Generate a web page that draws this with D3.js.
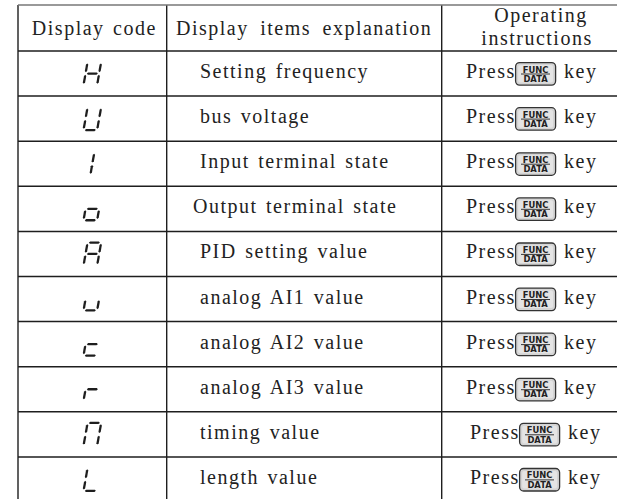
<!DOCTYPE html>
<html>
<head>
<meta charset="utf-8">
<script src="https://cdn.jsdelivr.net/npm/d3@7"></script>
<style>
  html, body { margin: 0; padding: 0; background: #fff; }
  svg { display: block; }
</style>
</head>
<body>
<svg id="chart" width="617" height="499"></svg>
<script>
// ---------- data ----------
const headerCode = "Display code";
const headerItems = "Display items explanation";
const headerOps = ["Operating", "instructions"];
const codes = ["H", "U", "I", "o", "A", "u", "c", "r", "n", "L"];
const items = [
  "Setting frequency", "bus voltage", "Input terminal state", "Output terminal state",
  "PID setting value", "analog AI1 value", "analog AI2 value", "analog AI3 value",
  "timing value", "length value"
];
const opPrefix = ["Press", "Press", "Press", "Press", "Press", "Press", "Press", "Press", "Press", "Press"];
const keyTop = "FUNC";
const keyBottom = "DATA";
const opSuffix = "key";

// ---------- layout ----------
const W = 617, H = 499;
const colEdges = [18, 166.7, 441.7, 618];
const tableTop = 5, headerBottom = 51, rowH = 45.1;
const itemIndent = [0, 0, 0, -7, 0, 0, 0, 0, 0, 0];
const opShift = [0, 0, 0, 0, 0, 0, 0, 0, 4, 4];
const ink = "#1e1e1e";

const svg = d3.select("#chart");
svg.append("rect").attr("width", W).attr("height", H).attr("fill", "#fff");

const y = d3.scaleBand().domain(d3.range(codes.length))
  .range([headerBottom, headerBottom + rowH * codes.length]).padding(0);

// ---------- grid lines ----------
const g = svg.append("g");
const bottom = headerBottom + rowH * codes.length;
g.selectAll("line.v").data(colEdges).join("line")
  .attr("x1", d => d).attr("x2", d => d)
  .attr("y1", tableTop).attr("y2", bottom)
  .attr("stroke", ink).attr("stroke-width", 1.4);
const hLines = [tableTop, headerBottom].concat(d3.range(codes.length).map(i => y(i) + y.bandwidth()));
g.selectAll("line.h").data(hLines).join("line")
  .attr("x1", colEdges[0]).attr("x2", colEdges[3])
  .attr("y1", d => d).attr("y2", d => d)
  .attr("stroke", (d, i) => i === 0 ? "#777" : ink).attr("stroke-width", 1.5);

// ---------- text style ----------
const serif = "'Liberation Serif', 'Times New Roman', serif";
function styleText(sel) {
  return sel.attr("font-family", serif).attr("font-size", 20)
    .attr("fill", "#222").attr("letter-spacing", 1.5).attr("word-spacing", 2);
}

// ---------- header ----------
const c1 = (colEdges[0] + colEdges[1]) / 2;
const c2 = (colEdges[1] + colEdges[2]) / 2;
const c3 = 537;
styleText(svg.append("text")).attr("x", c1 + 2).attr("y", 35).attr("text-anchor", "middle").text(headerCode);
styleText(svg.append("text")).attr("x", c2).attr("y", 35).attr("text-anchor", "middle")
  .attr("word-spacing", 5).text(headerItems);
styleText(svg.append("text")).attr("x", c3 + 4).attr("y", 22).attr("text-anchor", "middle").text(headerOps[0]);
styleText(svg.append("text")).attr("x", c3).attr("y", 45).attr("text-anchor", "middle").text(headerOps[1]);

// ---------- 7-segment glyphs ----------
const hw = 6.8, hh = 11.4, gap = 1.3, th = 2.3;
const segs = {
  a: [[-hw + gap, -hh], [hw - gap, -hh]],
  b: [[hw, -hh + gap], [hw, -gap]],
  c: [[hw, gap], [hw, hh - gap]],
  d: [[-hw + gap, hh], [hw - gap, hh]],
  e: [[-hw, gap], [-hw, hh - gap]],
  f: [[-hw, -hh + gap], [-hw, -gap]],
  g: [[-hw + gap, 0], [hw - gap, 0]],
  i1: [[0, -hh + gap], [0, -gap]],
  i2: [[0, gap], [0, hh - gap]]
};
const glyphSegs = {
  H: ["b", "c", "e", "f", "g"],
  U: ["b", "c", "d", "e", "f"],
  I: ["i1", "i2"],
  o: ["c", "d", "e", "g"],
  A: ["a", "b", "c", "e", "f", "g"],
  u: ["c", "d", "e"],
  c: ["d", "e", "g"],
  r: ["e", "g"],
  n: ["a", "b", "c", "e", "f"],
  L: ["d", "e", "f"]
};
function segPoly(p1, p2) {
  const dx = p2[0] - p1[0], dy = p2[1] - p1[1];
  const len = Math.hypot(dx, dy);
  const ux = dx / len, uy = dy / len, px = -uy, py = ux;
  const t = th / 2;
  const pts = [
    [p1[0], p1[1]],
    [p1[0] + ux * t + px * t, p1[1] + uy * t + py * t],
    [p2[0] - ux * t + px * t, p2[1] - uy * t + py * t],
    [p2[0], p2[1]],
    [p2[0] - ux * t - px * t, p2[1] - uy * t - py * t],
    [p1[0] + ux * t - px * t, p1[1] + uy * t - py * t]
  ];
  return pts.map(p => p.join(",")).join(" ");
}
const glyphs = svg.append("g").selectAll("g").data(codes).join("g")
  .attr("transform", (d, i) => `translate(${c1},${y(i) + y.bandwidth() / 2}) skewX(-10)`);
glyphs.selectAll("polygon").data(d => glyphSegs[d]).join("polygon")
  .attr("points", s => segPoly(segs[s][0], segs[s][1]))
  .attr("fill", ink);

// ---------- item explanations ----------
styleText(svg.append("g").selectAll("text").data(items).join("text"))
  .attr("x", (d, i) => 200 + itemIndent[i])
  .attr("y", (d, i) => y(i) + 27)
  .text(d => d);

// ---------- operating instructions ----------
const ops = svg.append("g").selectAll("g").data(opPrefix).join("g")
  .attr("transform", (d, i) => `translate(${466 + opShift[i]},${y(i)})`);
styleText(ops.append("text")).attr("x", 0).attr("y", 27).text(d => d);
const key = ops.append("g").attr("transform", "translate(49,11)");
key.append("rect").attr("x", 0.6).attr("y", 0.6).attr("width", 40).attr("height", 22.5)
  .attr("rx", 4).attr("fill", "#d4d4d4").attr("stroke", "#333").attr("stroke-width", 1.3);
key.append("rect").attr("x", 3.2).attr("y", 3).attr("width", 34.8).attr("height", 17.6)
  .attr("rx", 2).attr("fill", "#e4e4e4");
key.append("text").attr("x", 20.6).attr("y", 10.6).attr("text-anchor", "middle")
  .attr("font-family", "'DejaVu Sans', Arial, sans-serif").attr("font-weight", "bold")
  .attr("font-size", 8.4).attr("fill", "#222").text(keyTop);
key.append("line").attr("x1", 6).attr("x2", 35).attr("y1", 12).attr("y2", 12)
  .attr("stroke", "#222").attr("stroke-width", 0.9);
key.append("text").attr("x", 20.6).attr("y", 19.8).attr("text-anchor", "middle")
  .attr("font-family", "'DejaVu Sans', Arial, sans-serif").attr("font-weight", "bold")
  .attr("font-size", 8.4).attr("fill", "#222").text(keyBottom);
styleText(ops.append("text")).attr("x", 98).attr("y", 27).text(opSuffix);
</script>
</body>
</html>
